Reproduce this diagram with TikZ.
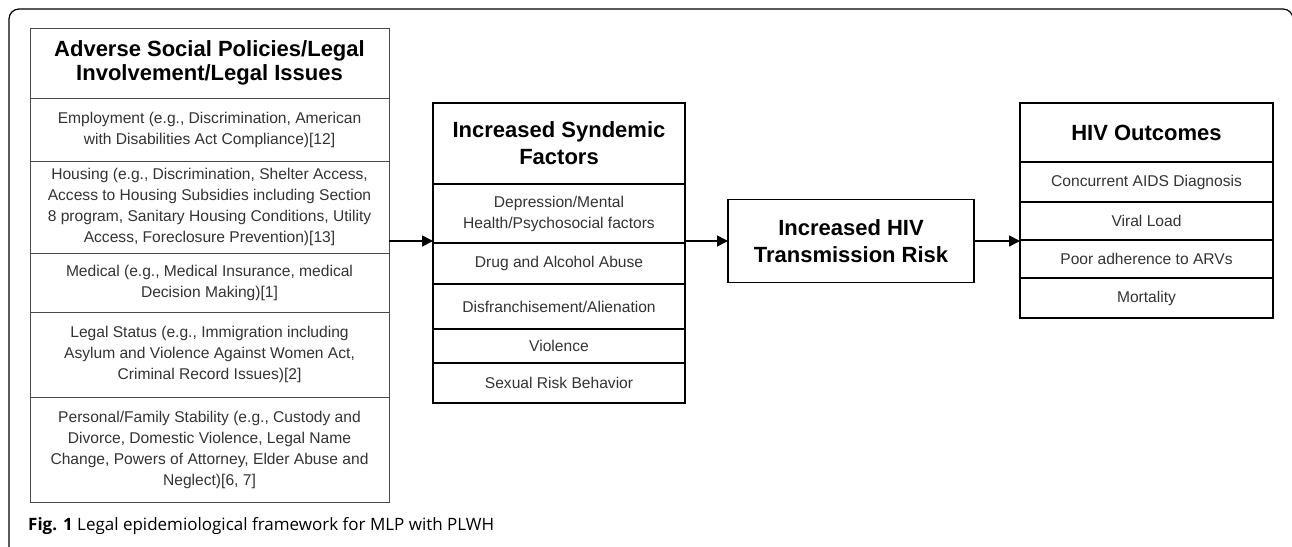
\documentclass[tikz,border=0pt]{standalone}
\usepackage{fontspec}
\setmainfont{Liberation Sans}
\newfontfamily\capfont{Open Sans}
\usetikzlibrary{positioning, arrows.meta}
\usepackage{xcolor}
\definecolor{rowtext}{HTML}{333333}
\definecolor{rowline}{HTML}{4A4A4A}

\begin{document}
\begin{tikzpicture}[x=1pt, y=-1pt,
  titlebox/.style={draw, rectangle, inner sep=0pt, outer sep=0pt, align=center, font=\fontsize{22}{27}\bfseries\selectfont},
  rowbox/.style={draw, rectangle, inner sep=0pt, outer sep=0pt, align=center, text=rowtext, font=\fontsize{15.6}{21}\selectfont},
  leftcol/.style={minimum width=359pt, draw=rowline, line width=1pt},
  midcol/.style={minimum width=252pt, line width=1.6pt},
  outcol/.style={minimum width=253pt, line width=1.6pt},
  arr/.style={-{Triangle[length=11pt,width=11pt]}, line width=1.6pt}]
\useasboundingbox (0,0) rectangle (1292,546);
% frame
\draw[rounded corners=10pt, line width=1.2pt] (9,560) -- (9,9) -- (1293,9) -- (1293,560);

% left column
\node[titlebox, leftcol, minimum height=70pt, font=\fontsize{22}{24}\bfseries\selectfont] (ltitle) at (209.5,63) {Adverse Social Policies/Legal\\Involvement/Legal Issues};
\node[rowbox, leftcol, minimum height=63pt, below=0pt of ltitle] (lemp) {Employment (e.g., Discrimination, American\\with Disabilities Act Compliance)[12]};
\node[rowbox, leftcol, minimum height=92pt, below=0pt of lemp] (lhousing) {Housing (e.g., Discrimination, Shelter Access,\\Access to Housing Subsidies including Section\\8 program, Sanitary Housing Conditions, Utility\\Access, Foreclosure Prevention)[13]};
\node[rowbox, leftcol, minimum height=59pt, below=0pt of lhousing] (lmed) {Medical (e.g., Medical Insurance, medical\\Decision Making)[1]};
\node[rowbox, leftcol, minimum height=85pt, below=0pt of lmed] (llegal) {Legal Status (e.g., Immigration including\\Asylum and Violence Against Women Act,\\Criminal Record Issues)[2]};
\node[rowbox, leftcol, minimum height=105pt, below=0pt of llegal] (lfamily) {Personal/Family Stability (e.g., Custody and\\Divorce, Domestic Violence, Legal Name\\Change, Powers of Attorney, Elder Abuse and\\Neglect)[6, 7]};

% middle column
\node[titlebox, midcol, minimum height=81pt] (mtitle) at (559,143.5) {Increased Syndemic\\Factors};
\node[rowbox, midcol, minimum height=59pt, below=0pt of mtitle] (mdep) {Depression/Mental\\Health/Psychosocial factors};
\node[rowbox, midcol, minimum height=41pt, below=0pt of mdep] (mdrug) {Drug and Alcohol Abuse};
\node[rowbox, midcol, minimum height=45pt, below=0pt of mdrug] (mdisf) {Disfranchisement/Alienation};
\node[rowbox, midcol, minimum height=34pt, below=0pt of mdisf] (mviol) {Violence};
\node[rowbox, midcol, minimum height=40pt, below=0pt of mviol] (msex) {Sexual Risk Behavior};

% transmission risk
\node[titlebox, minimum width=246pt, minimum height=83pt, line width=1.6pt] (hiv) at (851,241) {Increased HIV\\Transmission Risk};

% outcomes column
\node[titlebox, outcol, minimum height=59pt] (otitle) at (1146.5,132.5) {HIV Outcomes};
\node[rowbox, outcol, minimum height=40pt, below=0pt of otitle] (oaids) {Concurrent AIDS Diagnosis};
\node[rowbox, outcol, minimum height=38pt, below=0pt of oaids] (oload) {Viral Load};
\node[rowbox, outcol, minimum height=38pt, below=0pt of oload] (oarv) {Poor adherence to ARVs};
\node[rowbox, outcol, minimum height=40pt, below=0pt of oarv] (omort) {Mortality};

% arrows
\draw[arr] (lhousing.east |- hiv.west) -- (hiv.west -| mdep.west);
\draw[arr] (hiv.west -| mdep.east) -- (hiv.west);
\draw[arr] (hiv.east) -- (hiv.east -| oarv.west);

% caption
\node[anchor=base west, inner sep=0pt, font=\capfont\fontsize{17}{20}\selectfont] (caption) at (28,530) {\textbf{Fig. 1} Legal epidemiological framework for MLP with PLWH};
\end{tikzpicture}
\end{document}
